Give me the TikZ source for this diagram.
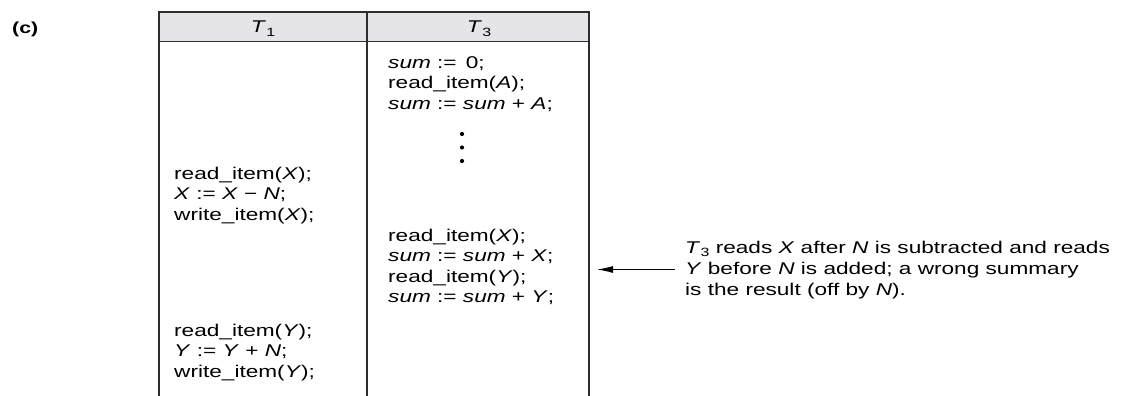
\documentclass[tikz,border=0pt]{standalone}
\usepackage{fontspec}
\setmainfont{Liberation Sans}[FakeStretch=1.33]
\usetikzlibrary{arrows.meta}
\definecolor{hdr}{RGB}{229,229,233}
\definecolor{rule}{RGB}{45,45,45}
\newcommand\Tsb[1]{\textit{T}\kern0.3pt\raisebox{-0.35ex}{\fontsize{12}{12}\selectfont #1}}
\begin{document}
\begin{tikzpicture}[x=1pt,y=-1pt,
  code/.style={anchor=base west,inner sep=0pt,font=\fontsize{17}{20}\selectfont},
  note/.style={anchor=base west,inner sep=0pt,font=\fontsize{17}{20}\selectfont},
  head/.style={anchor=base,inner sep=0pt,font=\fontsize{17}{20}\selectfont},
  frame/.style={draw=rule,line width=1.8pt},
  dot/.style={circle,fill=black,inner sep=0pt,minimum size=4.2pt}]
\useasboundingbox (0,0) rectangle (1127,396);
% header
\fill[hdr] (159,12) rectangle (589,41.5);
\draw[frame] (159,396) -- (159,12) -- (589,12) -- (589,396);
\draw[frame] (159,41.5) -- (589,41.5);
\draw[frame] (367,12) -- (367,396);
\node[anchor=base west,inner sep=0pt,font=\fontsize{16}{18}\selectfont\bfseries] (lab) at (12,34) {(c)};
\node[head] (h1) at (263,33) {\Tsb{1}};
\node[head] (h3) at (479,33) {\Tsb{3}};
% T3 first block
\node[code] (a1) at (388,68) {\textit{sum} := \,0;};
\node[code] (a2) at (388,88.5) {read\_item(\textit{A});};
\node[code] (a3) at (388,109) {\textit{sum} := \textit{sum} + \textit{A};};
\node[dot] (d1) at (462,134) {};
\node[dot] (d2) at (462,147.5) {};
\node[dot] (d3) at (462,161) {};
% T1 first block
\node[code] (b1) at (174,179) {read\_item(\textit{X});};
\node[code] (b2) at (174,199.5) {\textit{X} := \textit{X} − \textit{N};};
\node[code] (b3) at (174,220) {write\_item(\textit{X});};
% T3 second block
\node[code] (c1) at (388,241) {read\_item(\textit{X});};
\node[code] (c2) at (388,261.5) {\textit{sum} := \textit{sum} + \textit{X};};
\node[code] (c3) at (388,282) {read\_item(\textit{Y});};
\node[code] (c4) at (388,302.5) {\textit{sum} := \textit{sum} + \textit{Y};};
% T1 second block
\node[code] (e1) at (174,336) {read\_item(\textit{Y});};
\node[code] (e2) at (174,356.5) {\textit{Y} := \textit{Y} + \textit{N};};
\node[code] (e3) at (174,377) {write\_item(\textit{Y});};
% annotation
\node[note] (n1) at (685,253) {\Tsb{3} reads \textit{X} after \textit{N} is subtracted and reads};
\node[note] (n2) at (685,274) {\textit{Y} before \textit{N} is added; a wrong summary};
\node[note] (n3) at (685,295) {is the result (off by \textit{N}).};
\coordinate (tail) at (675,269.5);
\coordinate (tip) at (597,269.5);
\draw[line width=1.1pt,-{Latex[length=16pt,width=7pt]}] (tail) -- (tip);
\end{tikzpicture}
\end{document}
